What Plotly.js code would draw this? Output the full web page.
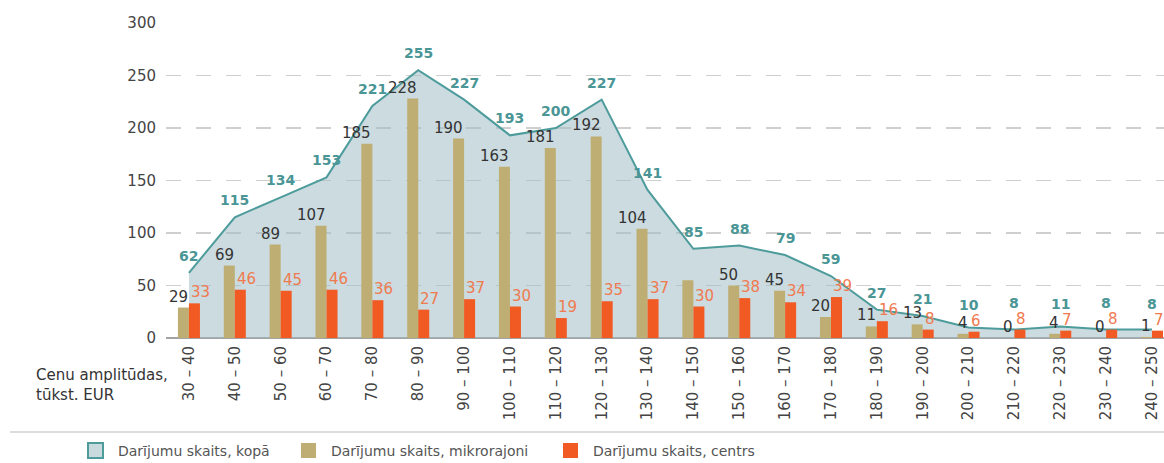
<!DOCTYPE html>
<html>
<head>
<meta charset="utf-8">
<script src="https://cdn.plot.ly/plotly-3.0.1.min.js"></script>
<style>
  html, body { margin: 0; padding: 0; background: #ffffff; }
  #chart { width: 1164px; height: 463px; }
</style>
</head>
<body>
<div id="chart"></div>
<script>
// ---- data ----
const categories = ['30 – 40', '40 – 50', '50 – 60', '60 – 70', '70 – 80', '80 – 90', '90 – 100',
  '100 – 110', '110 – 120', '120 – 130', '130 – 140', '140 – 150', '150 – 160', '160 – 170',
  '170 – 180', '180 – 190', '190 – 200', '200 – 210', '210 – 220', '220 – 230', '230 – 240', '240 – 250'];
const totalDeals  = [62, 115, 134, 153, 221, 255, 227, 193, 200, 227, 141, 85, 88, 79, 59, 27, 21, 10, 8, 11, 8, 8];
const microDeals  = [29, 69, 89, 107, 185, 228, 190, 163, 181, 192, 104, 55, 50, 45, 20, 11, 13, 4, 0, 4, 0, 1];
const centreDeals = [33, 46, 45, 46, 36, 27, 37, 30, 19, 35, 37, 30, 38, 34, 39, 16, 8, 6, 8, 7, 8, 7];
// the reference shows no label on the 140 – 150 micro-district bar
const microLabels = ['29', '69', '89', '107', '185', '228', '190', '163', '181', '192', '104', '', '50', '45', '20', '11', '13', '4', '0', '4', '0', '1'];
const yTicks = [0, 50, 100, 150, 200, 250, 300];
const seriesNames = ['Darījumu skaits, kopā', 'Darījumu skaits, mikrorajoni', 'Darījumu skaits, centrs'];
const axisCaption = 'Cenu amplitūdas,<br>tūkst. EUR';

// ---- styling ----
const FONT = 'DejaVu Sans, Noto Sans, sans-serif';
const TEAL = '#4d9b9b';
const TEAL_TXT = '#4a9595';
const AREA = 'rgba(160,190,198,0.55)';
const TAN = '#bfae73';
const RED = '#f25a24';
const ORANGE_TXT = '#f07a4f';
const DARK_TXT = '#333333';

const W = 1164, H = 463;
const M = { l: 166, r: 0, t: 23, b: 125 };
const PW = W - M.l - M.r, PH = H - M.t - M.b;
const PXPERUNIT = PH / 300;
const px2x = px => (px - M.l) / PW;
const px2y = py => (H - M.b - py) / PH;

const xRange = [-0.5, -0.5 + PW / 45.86];

const traces = [
  {
    type: 'scatter', mode: 'lines', name: seriesNames[0],
    x: categories, y: totalDeals, xaxis: 'x', yaxis: 'y',
    line: { color: TEAL, width: 2 }, fill: 'tozeroy', fillcolor: AREA,
    hoverinfo: 'skip', showlegend: false
  },
  {
    type: 'bar', name: seriesNames[1], x: categories, y: microDeals,
    xaxis: 'x2', yaxis: 'y2', marker: { color: TAN }, hoverinfo: 'skip', showlegend: false
  },
  {
    type: 'bar', name: seriesNames[2], x: categories, y: centreDeals,
    xaxis: 'x2', yaxis: 'y2', marker: { color: RED }, hoverinfo: 'skip', showlegend: false
  }
];

const annotations = [];
categories.forEach((c, i) => {
  // total label sits above the point, and above the centre-bar label where they would collide
  const lift = Math.max(7, (centreDeals[i] - totalDeals[i]) * PXPERUNIT + 17);
  annotations.push({
    xref: 'x', yref: 'y', x: c, y: totalDeals[i], text: String(totalDeals[i]),
    showarrow: false, xanchor: 'center', yanchor: 'bottom', yshift: lift,
    font: { family: FONT, size: 14, color: TEAL_TXT, weight: 'bold' }
  });
  if (microLabels[i] !== '') {
    annotations.push({
      xref: 'x', yref: 'y', x: c, y: microDeals[i], text: microLabels[i],
      showarrow: false, xanchor: 'right', yanchor: 'bottom', yshift: 0, xshift: 1,
      font: { family: FONT, size: 15, color: DARK_TXT }
    });
  }
  annotations.push({
    xref: 'x', yref: 'y', x: c, y: centreDeals[i], text: String(centreDeals[i]),
    showarrow: false, xanchor: 'left', yanchor: 'bottom', yshift: 0, xshift: 0,
    font: { family: FONT, size: 15, color: ORANGE_TXT }
  });
});

// axis caption at the left of the category labels
annotations.push({
  xref: 'paper', yref: 'paper', x: px2x(34), y: px2y(364), xanchor: 'left', yanchor: 'top',
  text: axisCaption, showarrow: false, align: 'left',
  font: { family: FONT, size: 15, color: DARK_TXT }
});

// custom legend
const legendItems = [
  { sx: 88, tx: 116, fill: 'rgb(200,218,222)', line: TEAL, lw: 2 },
  { sx: 301, tx: 329, fill: TAN, line: TAN, lw: 0 },
  { sx: 563, tx: 591, fill: RED, line: RED, lw: 0 }
];
const shapes = [
  { type: 'line', xref: 'paper', yref: 'paper', x0: px2x(10), x1: px2x(1164), y0: px2y(432), y1: px2y(432),
    line: { color: '#d2d2d2', width: 1.5 } }
];
legendItems.forEach((it, i) => {
  shapes.push({
    type: 'rect', xref: 'paper', yref: 'paper',
    x0: px2x(it.sx), x1: px2x(it.sx + 15), y0: px2y(443), y1: px2y(458),
    fillcolor: it.fill, line: { color: it.line, width: it.lw }
  });
  annotations.push({
    xref: 'paper', yref: 'paper', x: px2x(it.tx), y: px2y(451), xanchor: 'left', yanchor: 'middle',
    text: seriesNames[i], showarrow: false,
    font: { family: FONT, size: 14, color: '#555555' }
  });
});

const layout = {
  width: W, height: H, margin: M,
  paper_bgcolor: '#ffffff', plot_bgcolor: 'rgba(0,0,0,0)',
  font: { family: FONT, color: DARK_TXT },
  showlegend: false,
  barmode: 'group', bargap: 0.52, bargroupgap: 0,
  xaxis: {
    type: 'category', range: xRange, tickangle: -90, showgrid: false, showline: false,
    zeroline: false, ticks: '', ticklabelstandoff: 4,
    tickfont: { family: FONT, size: 15, color: '#444444' }, fixedrange: true
  },
  yaxis: {
    range: [0, 300], tickvals: yTicks, showgrid: true, gridcolor: '#cfcfcf', gridwidth: 1.5,
    griddash: '15px,15px', zeroline: true, zerolinecolor: '#a3a3a3', zerolinewidth: 2,
    showline: false, ticks: '', ticklabelstandoff: 9,
    tickfont: { family: FONT, size: 15, color: '#444444' }, fixedrange: true
  },
  xaxis2: { type: 'category', overlaying: 'x', range: xRange, visible: false, fixedrange: true },
  yaxis2: { overlaying: 'y', range: [0, 300], visible: false, fixedrange: true },
  annotations: annotations,
  shapes: shapes
};

Plotly.newPlot('chart', traces, layout, { displayModeBar: false, staticPlot: true });
</script>
</body>
</html>
